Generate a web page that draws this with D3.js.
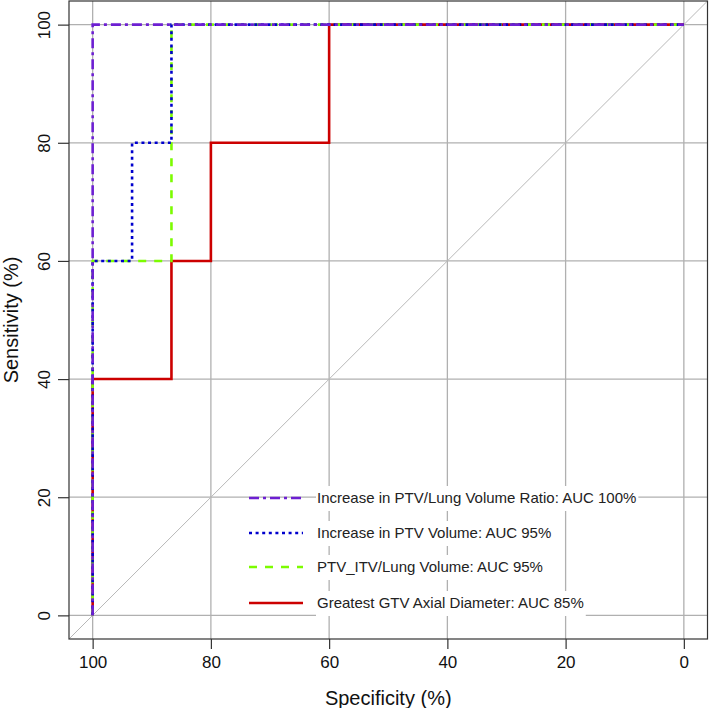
<!DOCTYPE html>
<html>
<head>
<meta charset="utf-8">
<script src="https://cdn.jsdelivr.net/npm/d3@7"></script>
<style>
  html, body { margin: 0; padding: 0; background: #fff; }
  svg { display: block; font-family: "Liberation Sans", Arial, sans-serif; }
</style>
</head>
<body>
<svg id="chart" width="709" height="708"></svg>
<script>
// ---- data ----
const seriesNames = [
  "Increase in PTV/Lung Volume Ratio: AUC 100%",
  "Increase in PTV Volume: AUC 95%",
  "PTV_ITV/Lung Volume: AUC 95%",
  "Greatest GTV Axial Diameter: AUC 85%"
];
const ratioSpec = [100, 100, 0];
const ratioSens = [0, 100, 100];
const ptvSpec = [100, 100, 93.33, 93.33, 86.67, 86.67, 0];
const ptvSens = [0, 60, 60, 80, 80, 100, 100];
const itvSpec = [100, 100, 86.67, 86.67, 0];
const itvSens = [0, 60, 60, 100, 100];
const gtvSpec = [100, 100, 86.67, 86.67, 80, 80, 60, 60, 0];
const gtvSens = [0, 40, 40, 60, 60, 80, 80, 100, 100];
const xTicks = [100, 80, 60, 40, 20, 0];
const yTicks = [0, 20, 40, 60, 80, 100];

// ---- layout ----
const svg = d3.select("#chart");
const L = 69, R = 707.5, T = 1, B = 639;
const x = d3.scaleLinear().domain([104, -4]).range([L, R]);
const y = d3.scaleLinear().domain([-4, 104]).range([B, T]);

svg.append("clipPath").attr("id", "clip")
  .append("rect").attr("x", L).attr("y", T).attr("width", R - L).attr("height", B - T);

const plot = svg.append("g").attr("clip-path", "url(#clip)");

// grid
plot.selectAll(".vg").data(xTicks).enter().append("line")
  .attr("x1", d => x(d)).attr("x2", d => x(d)).attr("y1", T).attr("y2", B)
  .attr("stroke", "#b0b0b0").attr("stroke-width", 1.3);
plot.selectAll(".hg").data(yTicks).enter().append("line")
  .attr("y1", d => y(d)).attr("y2", d => y(d)).attr("x1", L).attr("x2", R)
  .attr("stroke", "#b0b0b0").attr("stroke-width", 1.3);
// diagonal
plot.append("line")
  .attr("x1", x(104)).attr("y1", y(-4)).attr("x2", x(-4)).attr("y2", y(104))
  .attr("stroke", "#b8b8b8").attr("stroke-width", 1);

// series
const series = [
  { spec: gtvSpec, sens: gtvSens, color: "#cc0000", dash: null, name: seriesNames[3] },
  { spec: itvSpec, sens: itvSens, color: "#7cfc00", dash: "8,8", name: seriesNames[2] },
  { spec: ptvSpec, sens: ptvSens, color: "#0000cd", dash: "3,3.6", name: seriesNames[1] },
  { spec: ratioSpec, sens: ratioSens, color: "#6d1fd2", dash: "10,4,3,4", name: seriesNames[0] }
];
const line = d3.line().x(d => x(d[0])).y(d => y(d[1]));
series.forEach(s => {
  const pts = s.spec.map((v, i) => [v, s.sens[i]]);
  plot.append("path").attr("d", line(pts)).attr("fill", "none")
    .attr("stroke", s.color).attr("stroke-width", 2.6)
    .attr("stroke-dasharray", s.dash);
});

// legend
const legRows = [498, 533, 567, 603];
const legOrder = [3, 2, 1, 0];
legOrder.forEach((si, r) => {
  const s = series[si];
  const yy = legRows[r];
  const g = svg.append("g");
  const txt = g.append("text").attr("x", 317).attr("y", yy)
    .attr("dy", "0.35em").attr("font-size", "15px").attr("fill", "#222")
    .text(s.name);
  const bb = txt.node().getBBox();
  g.insert("rect", "text").attr("x", bb.x - 1).attr("y", yy - 12)
    .attr("width", bb.width + 3).attr("height", 25).attr("fill", "#fff");
  g.append("line").attr("x1", 249).attr("x2", 303).attr("y1", yy).attr("y2", yy)
    .attr("stroke", s.color).attr("stroke-width", 2.6)
    .attr("stroke-dasharray", s.dash);
});

// box
svg.append("rect").attr("x", L).attr("y", T).attr("width", R - L).attr("height", B - T)
  .attr("fill", "none").attr("stroke", "#333").attr("stroke-width", 1.2);

// axes
const xAxis = d3.axisBottom(x).tickValues(xTicks).tickSize(10).tickPadding(7).tickSizeOuter(0);
const gx = svg.append("g").attr("transform", `translate(0,${B})`).call(xAxis);
gx.select(".domain").remove();
gx.selectAll("line").attr("stroke", "#333").attr("stroke-width", 1.2);
gx.selectAll("text").attr("font-size", "17px").attr("fill", "#111")
  .attr("font-family", "Liberation Sans, Arial, sans-serif");

const yAxis = d3.axisLeft(y).tickValues(yTicks).tickSize(11).tickSizeOuter(0);
const gy = svg.append("g").attr("transform", `translate(${L},0)`).call(yAxis);
gy.select(".domain").remove();
gy.selectAll("line").attr("stroke", "#333").attr("stroke-width", 1.2);
gy.selectAll("text")
  .attr("font-size", "17px").attr("fill", "#111")
  .attr("font-family", "Liberation Sans, Arial, sans-serif")
  .attr("text-anchor", "middle").attr("dy", null).attr("x", null)
  .attr("transform", "translate(-25,0) rotate(-90)")
  .attr("dominant-baseline", "auto")
  .attr("y", 6);

// titles
svg.append("text").attr("x", (L + R) / 2).attr("y", 705).attr("text-anchor", "middle")
  .attr("font-size", "20px").attr("fill", "#111").text("Specificity (%)");
svg.append("text").attr("transform", `translate(18,${(T + B) / 2}) rotate(-90)`)
  .attr("text-anchor", "middle").attr("font-size", "20px").attr("fill", "#111")
  .text("Sensitivity (%)");
</script>
</body>
</html>
